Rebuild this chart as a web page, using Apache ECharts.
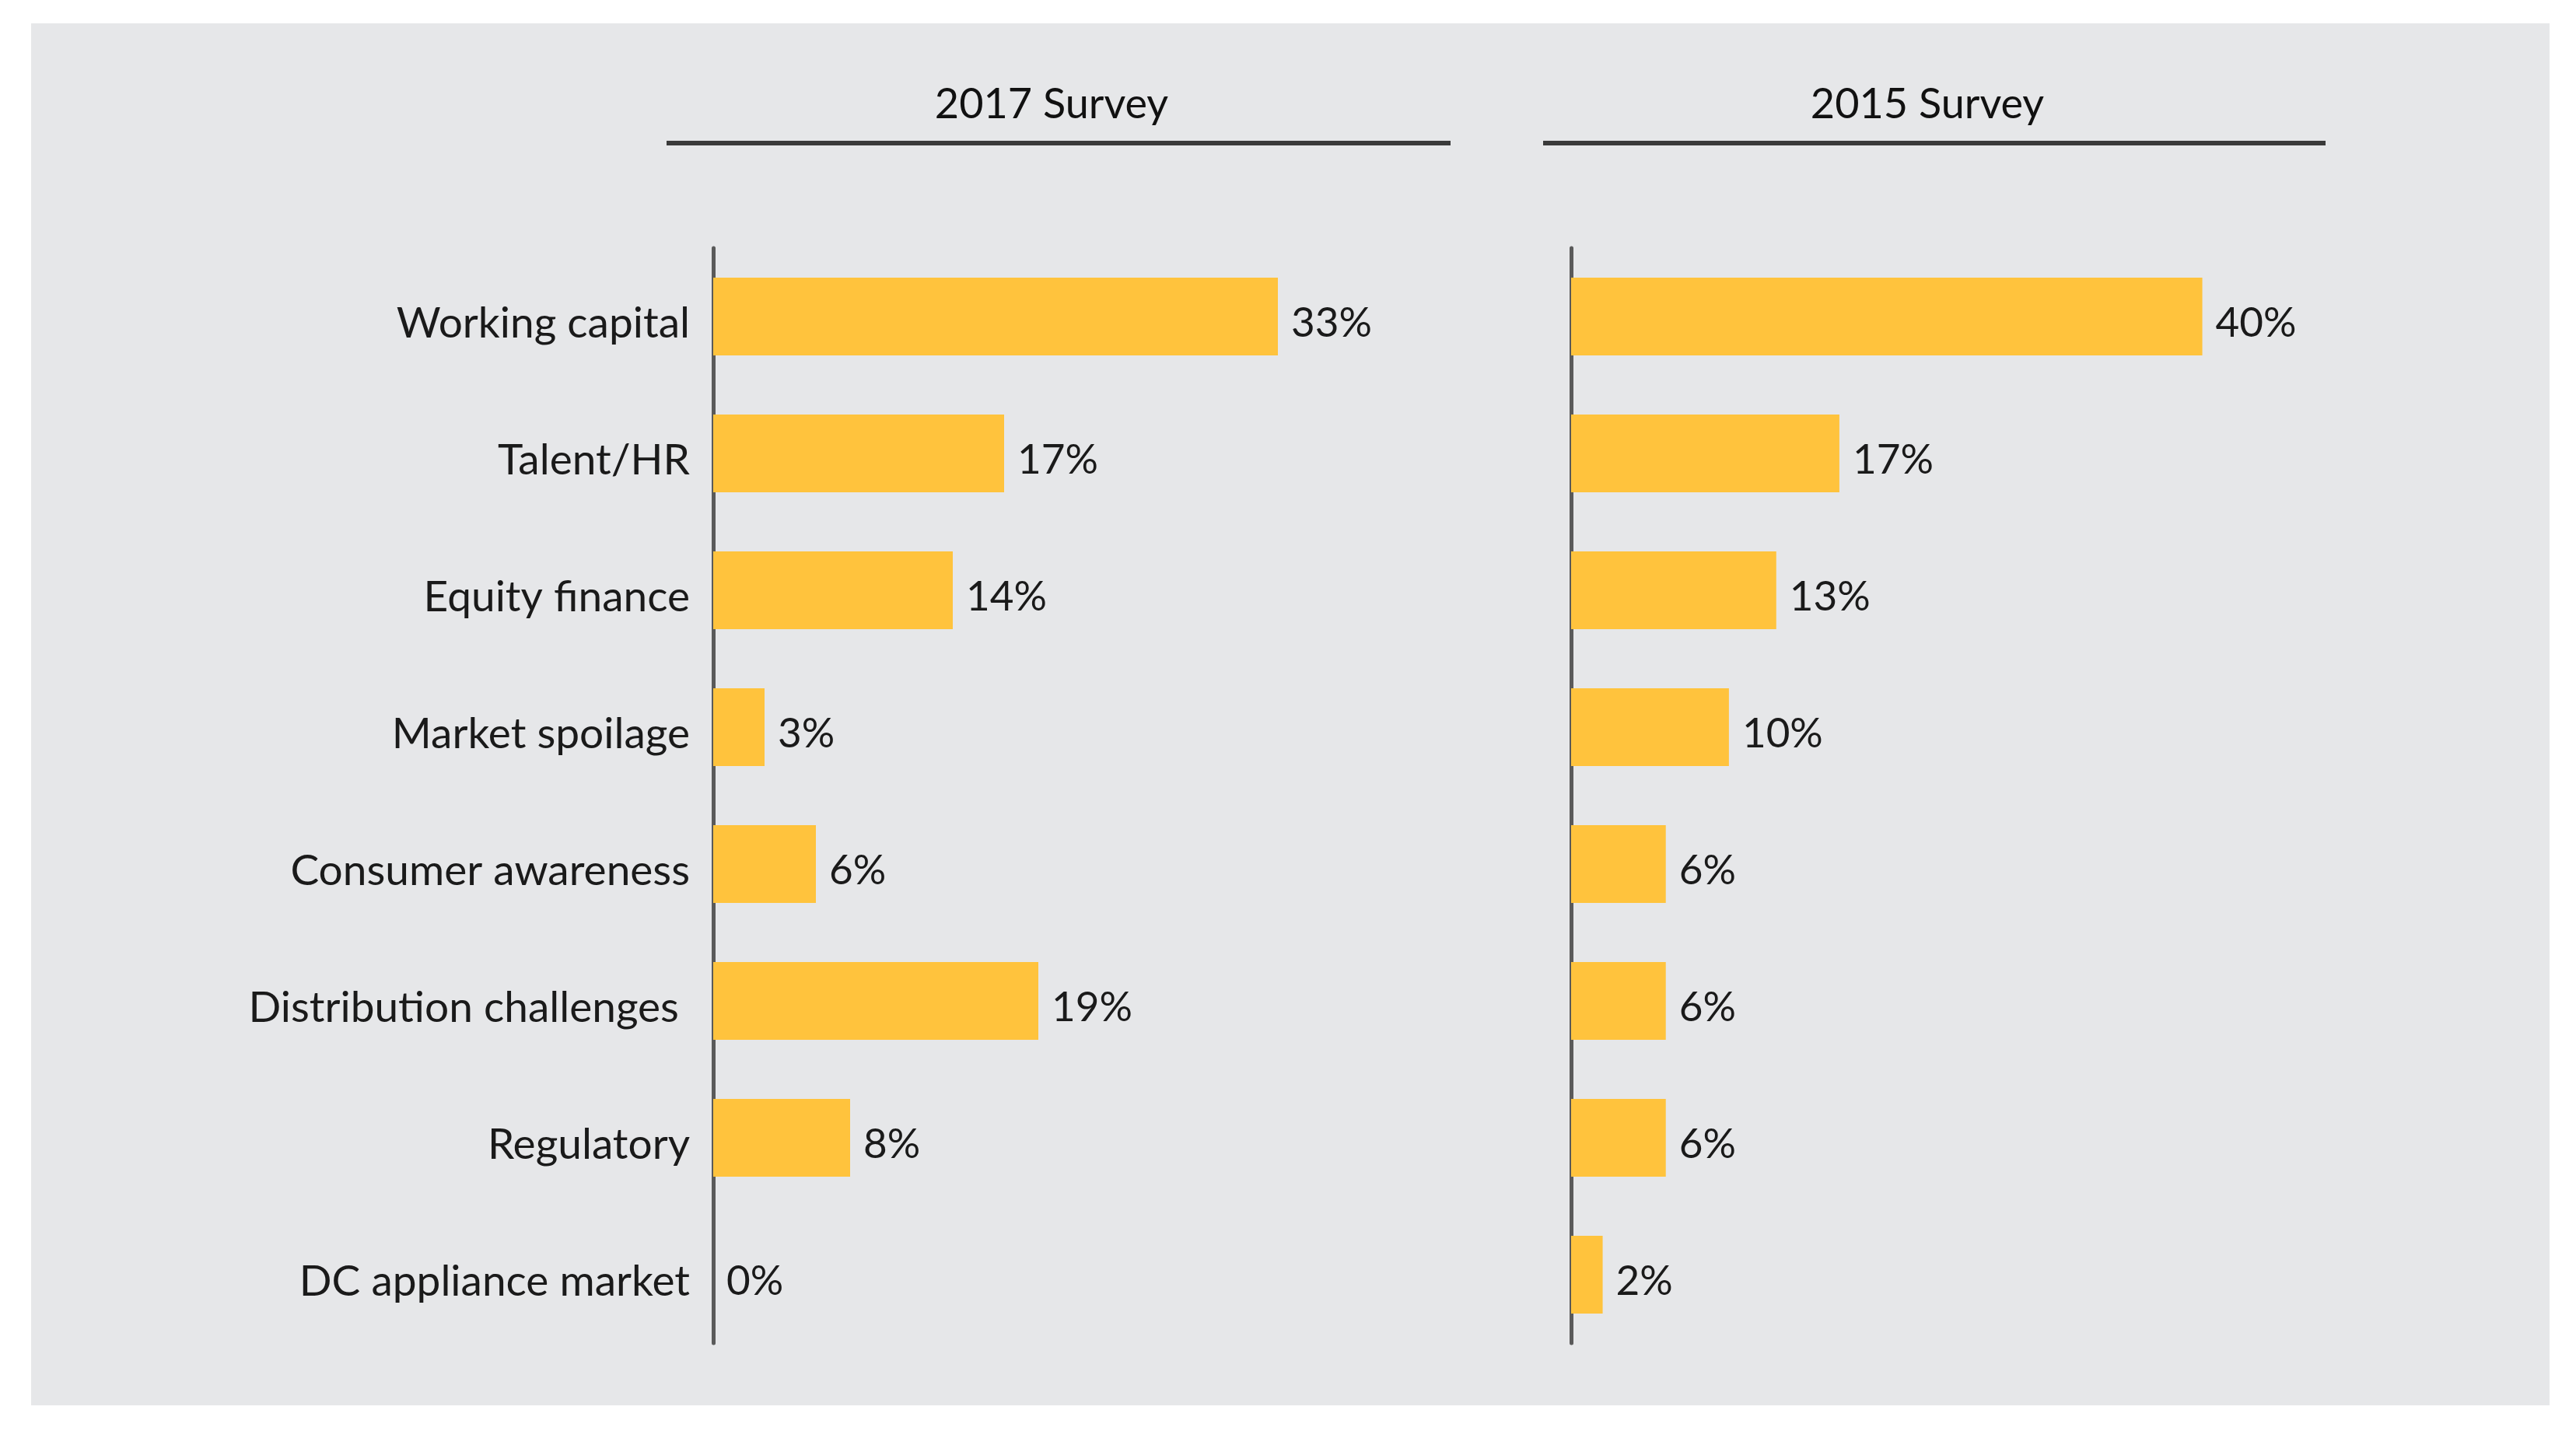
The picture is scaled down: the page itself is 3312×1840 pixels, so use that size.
<!DOCTYPE html>
<html>
<head>
<meta charset="utf-8">
<script src="https://cdn.jsdelivr.net/npm/echarts@6/dist/echarts.min.js"></script>
<style>
html,body{margin:0;padding:0;background:#fff;}
#c{width:3312px;height:1840px;}
</style>
</head>
<body>
<div id="c"></div>
<script>
const categories = ['Working capital','Talent/HR','Equity finance','Market spoilage','Consumer awareness','Distribution challenges ','Regulatory','DC appliance market'];
const survey2017 = [33,17,14,3,6,19,8,0];
const survey2015 = [40,17,13,10,6,6,6,2];
const panelTitles = ['2017 Survey','2015 Survey'];

const FONT = 'Lato';
const BAR = '#FFC33D';
const chart = echarts.init(document.getElementById('c'));

function yAx(idx, showLabel){
  return {
    type:'category', gridIndex:idx, data:categories, inverse:true,
    axisLine:{show:true, lineStyle:{color:'#5a5a5a', width:5}},
    axisTick:{show:false},
    axisLabel:{show:showLabel, fontFamily:FONT, fontSize:55, color:'#1a1a1a', margin:30, verticalAlign:'top', lineHeight:18}
  };
}
function xAx(idx, max){
  return {type:'value', gridIndex:idx, min:0, max:max, show:false, splitLine:{show:false}};
}
function bars(idx, data){
  return {
    type:'bar', xAxisIndex:idx, yAxisIndex:idx, data:data, barWidth:100,
    itemStyle:{color:BAR},
    label:{show:true, position:'right', distance:17, offset:[0,9], formatter:'{c}%', fontFamily:FONT, fontSize:53, color:'#1a1a1a'},
    silent:true
  };
}

chart.setOption({
  backgroundColor:'#ffffff',
  animation:false,
  graphic:[
    {type:'rect', shape:{x:40,y:30,width:3238,height:1777}, style:{fill:'#E6E7E9'}, z:-10},
    {type:'text', x:1352, y:135, style:{text:panelTitles[0], font:'54px '+FONT, fill:'#111', textAlign:'center', textVerticalAlign:'middle'}},
    {type:'text', x:2478, y:135, style:{text:panelTitles[1], font:'54px '+FONT, fill:'#111', textAlign:'center', textVerticalAlign:'middle'}},
    {type:'line', shape:{x1:857,y1:184,x2:1865,y2:184}, style:{stroke:'#3a3a3a', lineWidth:6}},
    {type:'line', shape:{x1:1984,y1:184,x2:2990,y2:184}, style:{stroke:'#3a3a3a', lineWidth:6}}
  ],
  grid:[
    {left:917, top:319, width:880, height:1408},
    {left:2020, top:319, width:913, height:1408}
  ],
  xAxis:[xAx(0,40), xAx(1,45)],
  yAxis:[yAx(0,true), yAx(1,false)],
  series:[bars(0,survey2017), bars(1,survey2015)]
});
</script>
</body>
</html>
